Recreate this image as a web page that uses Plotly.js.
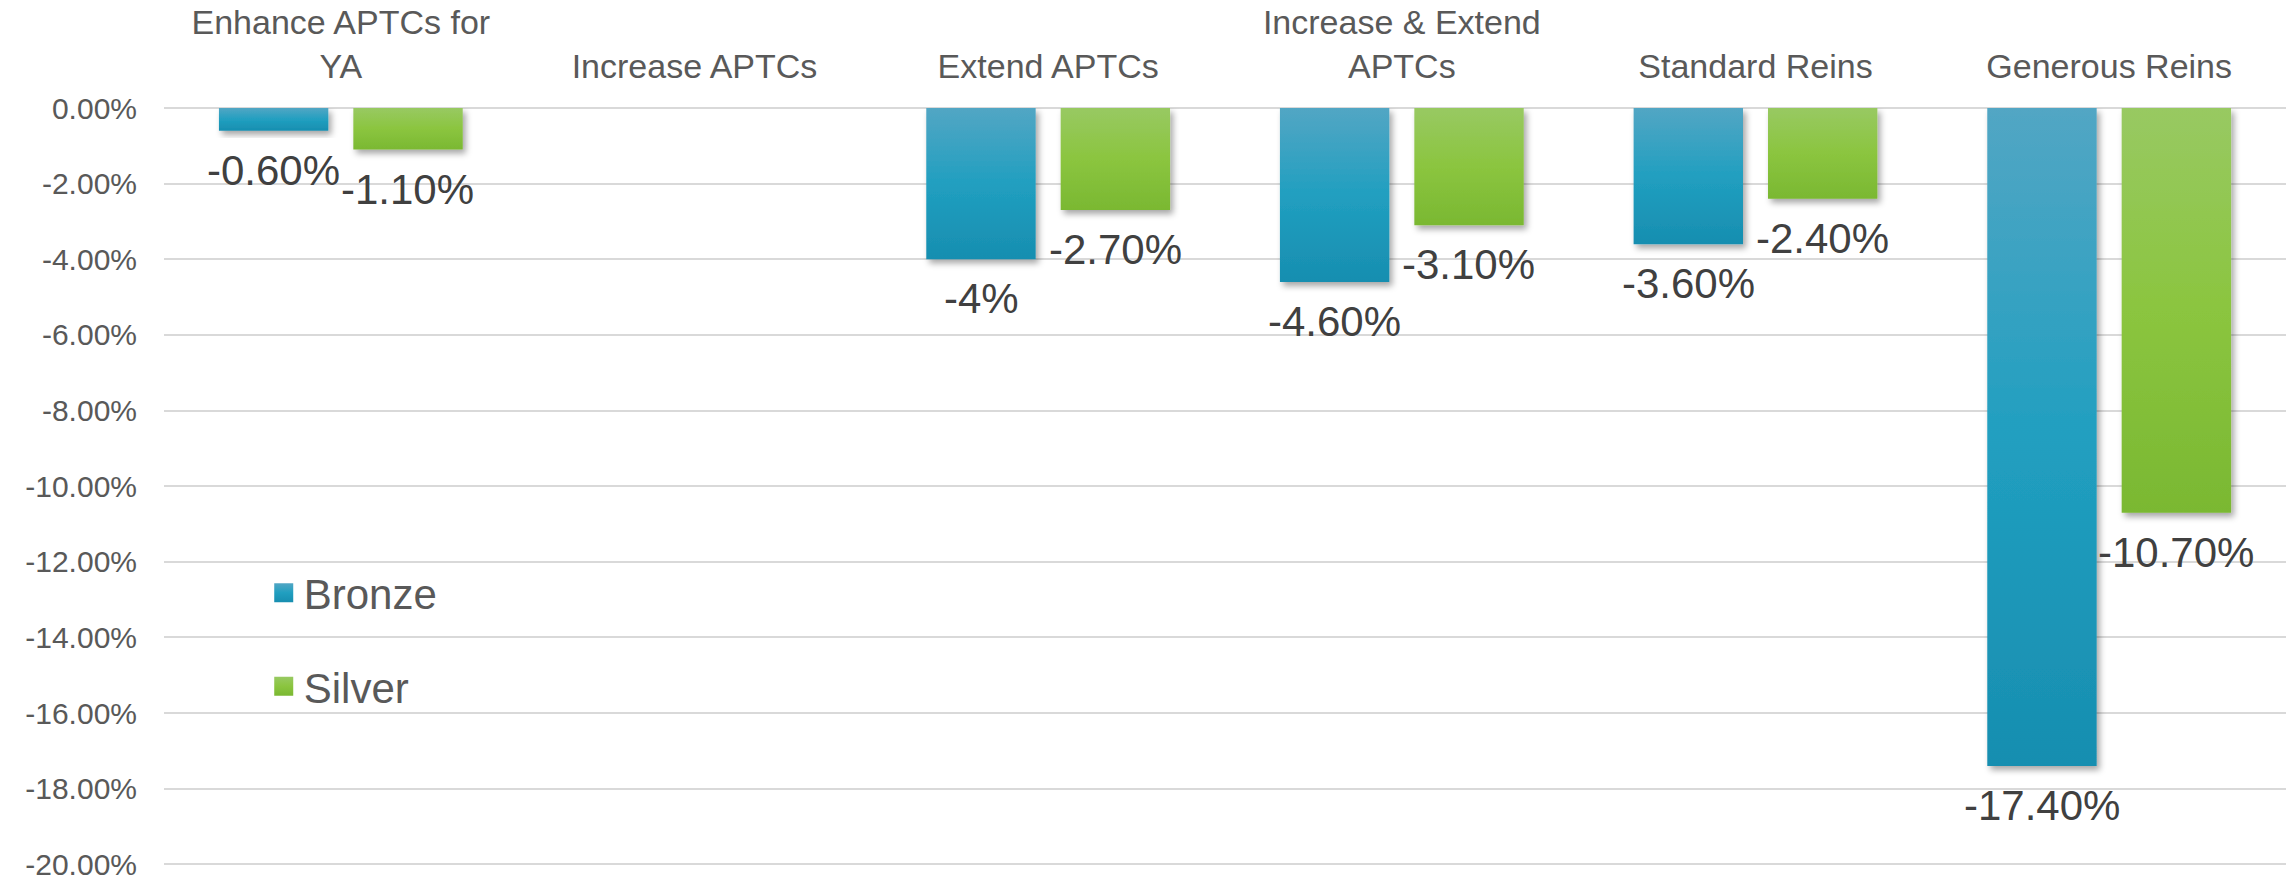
<!DOCTYPE html>
<html>
<head>
<meta charset="utf-8">
<script src="https://cdn.plot.ly/plotly-3.0.1.min.js"></script>
<style>
html,body{margin:0;padding:0;background:#ffffff;}
#chart{width:2290px;height:878px;}
</style>
</head>
<body>
<div id="chart"></div>
<script>
// ---- data ----
const categories = ["Enhance APTCs for<br>YA", "Increase APTCs", "Extend APTCs", "Increase & Extend<br>APTCs", "Standard Reins", "Generous Reins"];
const seriesNames = ["Bronze", "Silver"];
const bronzeValues = [-0.6, null, -4, -4.6, -3.6, -17.4];
const silverValues = [-1.1, null, -2.7, -3.1, -2.4, -10.7];
const bronzeLabels = ["-0.60%", "", "-4%", "-4.60%", "-3.60%", "-17.40%"];
const silverLabels = ["-1.10%", "", "-2.70%", "-3.10%", "-2.40%", "-10.70%"];
const yTickValues = [0, -2, -4, -6, -8, -10, -12, -14, -16, -18, -20];
const yTickLabels = ["0.00%", "-2.00%", "-4.00%", "-6.00%", "-8.00%", "-10.00%", "-12.00%", "-14.00%", "-16.00%", "-18.00%", "-20.00%"];

// ---- styles ----
const FONT = "Liberation Sans, Arial, sans-serif";
const bronzeColor = "#229cbf";
const silverColor = "#89c43f";
const labelShift = 67;

const traces = [
  {type: "bar", name: seriesNames[0], x: categories, y: bronzeValues, marker: {color: bronzeColor}, legendgroup: "b", hoverinfo: "none"},
  {type: "bar", name: seriesNames[1], x: categories, y: silverValues, marker: {color: silverColor}, legendgroup: "s", hoverinfo: "none"}
];

const annotations = [];
categories.forEach(function (c, i) {
  [[bronzeValues, bronzeLabels, -labelShift], [silverValues, silverLabels, labelShift]].forEach(function (s) {
    if (s[0][i] === null || s[1][i] === "") return;
    annotations.push({
      x: c, y: s[0][i], xref: "x", yref: "y", text: s[1][i], showarrow: false,
      xshift: s[2], yshift: -14, yanchor: "top", xanchor: "center",
      font: {family: FONT, size: 42, color: "#404040"}
    });
  });
});

const layout = {
  width: 2290, height: 878,
  margin: {l: 164, r: 4, t: 108, b: 8, pad: 0},
  paper_bgcolor: "#ffffff", plot_bgcolor: "#ffffff",
  font: {family: FONT, color: "#595959"},
  barmode: "group", bargap: 0.24, bargroupgap: 0.186,
  showlegend: true,
  legend: {
    x: 0.047, y: 0.302, xanchor: "left", yanchor: "middle",
    font: {family: FONT, size: 42, color: "#595959"},
    bgcolor: "rgba(0,0,0,0)", traceorder: "grouped", tracegroupgap: 36
  },
  xaxis: {
    type: "category", side: "top", showgrid: false, zeroline: false, showline: false,
    ticks: "", ticklabelstandoff: 22,
    tickfont: {family: FONT, size: 34, color: "#595959"}
  },
  yaxis: {
    range: [-20.15, 0], tickvals: yTickValues, ticktext: yTickLabels,
    showgrid: true, gridcolor: "#d9d9d9", gridwidth: 2,
    zeroline: true, zerolinecolor: "#d9d9d9", zerolinewidth: 2,
    showline: false, ticks: "", ticklabelstandoff: 26, ticklabeloverflow: "allow",
    tickfont: {family: FONT, size: 30, color: "#595959"}
  },
  annotations: annotations
};

Plotly.newPlot("chart", traces, layout, {displayModeBar: false, staticPlot: true}).then(function (gd) {
  const svg = gd.querySelector("svg.main-svg");
  const NS = "http://www.w3.org/2000/svg";
  let defs = svg.querySelector("defs");
  if (!defs) { defs = document.createElementNS(NS, "defs"); svg.insertBefore(defs, svg.firstChild); }
  function grad(id, stops) {
    const g = document.createElementNS(NS, "linearGradient");
    g.setAttribute("id", id);
    g.setAttribute("x1", "0"); g.setAttribute("y1", "0"); g.setAttribute("x2", "0"); g.setAttribute("y2", "1");
    stops.forEach(function (s) {
      const st = document.createElementNS(NS, "stop");
      st.setAttribute("offset", s[0]); st.setAttribute("stop-color", s[1]);
      g.appendChild(st);
    });
    defs.appendChild(g);
  }
  grad("gradBronze", [["0", "#52a6c4"], ["0.5", "#219fc0"], ["1", "#178eb0"]]);
  grad("gradSilver", [["0", "#98c962"], ["0.5", "#8bc53f"], ["1", "#7ab832"]]);
  const f = document.createElementNS(NS, "filter");
  f.setAttribute("id", "barShadow");
  f.setAttribute("x", "-20%"); f.setAttribute("y", "-20%"); f.setAttribute("width", "150%"); f.setAttribute("height", "150%");
  const ds = document.createElementNS(NS, "feDropShadow");
  ds.setAttribute("dx", "3"); ds.setAttribute("dy", "4"); ds.setAttribute("stdDeviation", "3");
  ds.setAttribute("flood-color", "#000"); ds.setAttribute("flood-opacity", "0.35");
  f.appendChild(ds); defs.appendChild(f);
  const ids = ["gradBronze", "gradSilver"];
  gd.querySelectorAll(".barlayer .trace").forEach(function (t, i) {
    t.querySelectorAll(".point path").forEach(function (p) {
      p.style.fill = "url(#" + ids[i] + ")";
      p.setAttribute("filter", "url(#barShadow)");
    });
  });
  gd.querySelectorAll(".legend .traces").forEach(function (t, i) {
    t.querySelectorAll(".legendpoints path").forEach(function (p) {
      p.setAttribute("d", "M9.5,9.5H-9.5V-9.5H9.5Z");
      p.style.fill = "url(#" + ids[i] + ")";
      p.style.strokeWidth = "0";
    });
  });
});
</script>
</body>
</html>
